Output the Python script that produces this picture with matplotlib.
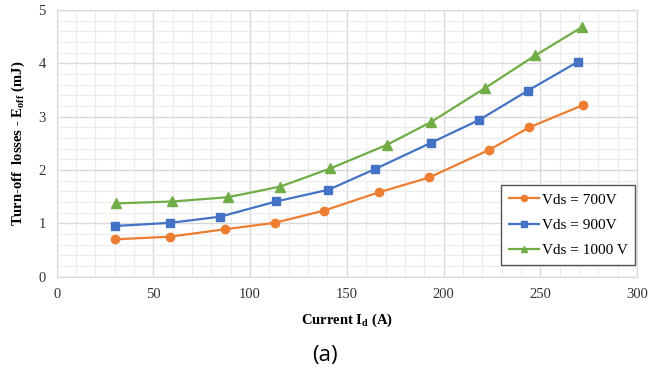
import numpy as np
import matplotlib.pyplot as plt
from matplotlib.ticker import MultipleLocator

# values
id_700 = [30.0, 58.4, 87.1, 112.7, 138.3, 166.4, 192.6, 223.7, 244.4, 272.3]
e_700 = [0.70, 0.75, 0.89, 1.01, 1.24, 1.58, 1.86, 2.38, 2.80, 3.22]

id_900 = [30.0, 58.7, 84.5, 113.4, 140.5, 164.7, 193.5, 218.5, 243.7, 269.5]
e_900 = [0.95, 1.01, 1.125, 1.41, 1.63, 2.02, 2.51, 2.94, 3.49, 4.03]

id_1000 = [30.9, 59.8, 88.5, 115.6, 141.5, 170.6, 193.5, 221.6, 247.5, 271.6]
e_1000 = [1.375, 1.41, 1.49, 1.69, 2.03, 2.47, 2.90, 3.54, 4.15, 4.68]

labels = ['Vds = 700V', 'Vds = 900V', 'Vds = 1000 V']

plt.rcParams['font.family'] = ['Liberation Serif', 'DejaVu Serif']
plt.rcParams['mathtext.fontset'] = 'custom'
plt.rcParams['mathtext.rm'] = 'Liberation Serif'
plt.rcParams['mathtext.bf'] = 'Liberation Serif:bold'

fig = plt.figure(figsize=(6.49, 3.78), dpi=100)
ax = fig.add_axes([0.0874, 0.268, 0.894, 0.7055])

ax.plot(id_700, e_700, color='#ED7D31', marker='o', markersize=6, linewidth=1.6, label=labels[0])
ax.plot(id_900, e_900, color='#4472C4', marker='s', markersize=5.5, linewidth=1.6, label=labels[1])
ax.plot(id_1000, e_1000, color='#70AD47', marker='^', markersize=6.5, linewidth=1.6, label=labels[2])

ax.set_xlim(0, 300)
ax.set_ylim(0, 5)
ax.xaxis.set_major_locator(MultipleLocator(50))
ax.xaxis.set_minor_locator(MultipleLocator(10))
ax.yaxis.set_major_locator(MultipleLocator(1))
ax.yaxis.set_minor_locator(MultipleLocator(0.2))
ax.grid(which='major', color='#d9d9d9', linewidth=1.0)
ax.grid(which='minor', color='#ececec', linewidth=0.8)
ax.set_axisbelow(True)
ax.tick_params(which='both', length=0, labelsize=10.5, colors='#333333', pad=8)
for s in ax.spines.values():
    s.set_color('#d9d9d9')

ax.set_xlabel(r'Current $\mathbf{I_d}$ (A)', fontsize=10.5, fontweight='bold', labelpad=8)
ax.set_ylabel(r'Turn-off  losses - $\mathbf{E_{off}}$ (mJ)', fontsize=10.5, fontweight='bold', labelpad=8)

leg = ax.legend(loc='lower right', bbox_to_anchor=(0.997, 0.045), fontsize=11, frameon=True,
                fancybox=False, edgecolor='#555555', framealpha=1, borderpad=0.5,
                labelspacing=0.75, handlelength=2.0, handletextpad=0.15, markerscale=0.75,
                borderaxespad=0)
leg.get_frame().set_linewidth(1.0)

fig.text(0.5, 0.06, '(a)', ha='center', va='center', fontsize=16, family='Open Sans')

fig.savefig('out.png', dpi=100)
